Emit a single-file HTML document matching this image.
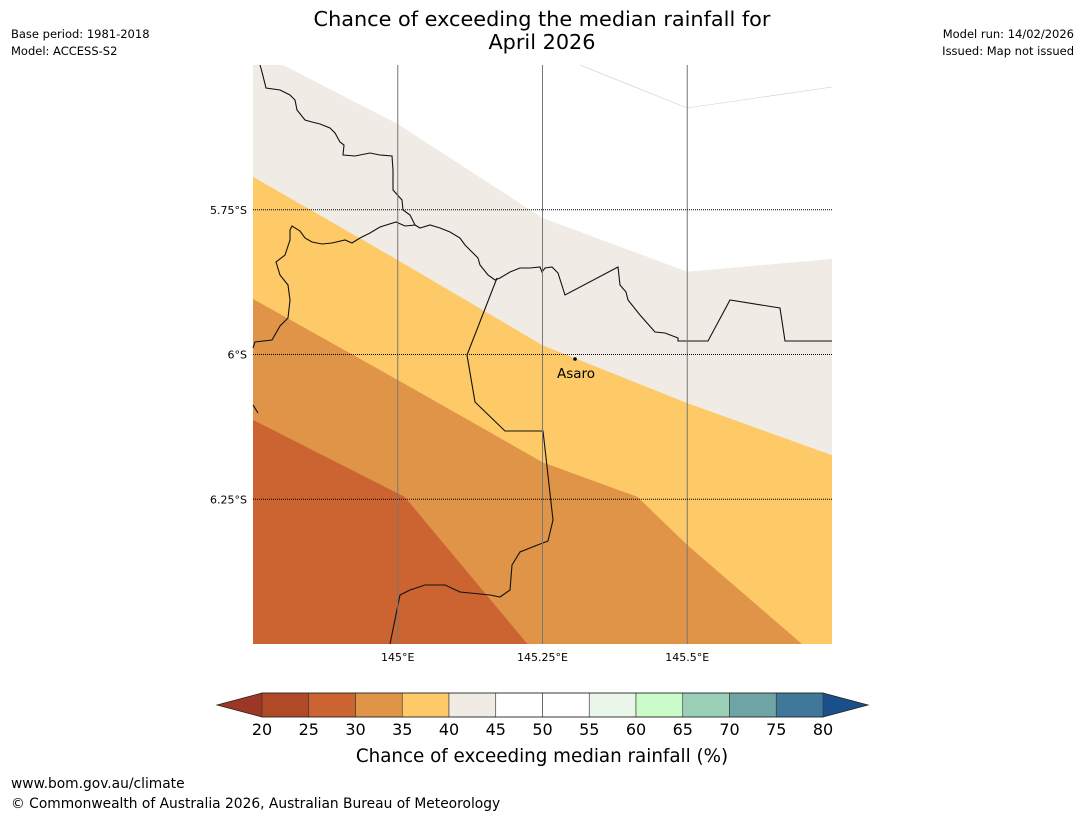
<!DOCTYPE html>
<html><head><meta charset="utf-8"><style>
body{margin:0;background:#fff;font-family:"DejaVu Sans",sans-serif;}
#wrap{position:relative;width:1085px;height:816px;overflow:hidden;}
</style></head><body>
<div id="wrap">
<svg id="svg" width="1085" height="816" xmlns="http://www.w3.org/2000/svg" font-family="DejaVu Sans, sans-serif">
<text x="542" y="26" text-anchor="middle" font-size="20.8">Chance of exceeding the median rainfall for</text>
<text x="542" y="49" text-anchor="middle" font-size="20.8">April 2026</text>
<text x="11" y="38" font-size="11.5">Base period: 1981-2018</text>
<text x="11" y="55" font-size="11.5">Model: ACCESS-S2</text>
<text x="1074" y="38" font-size="11.5" text-anchor="end">Model run: 14/02/2026</text>
<text x="1074" y="55" font-size="11.5" text-anchor="end">Issued: Map not issued</text>
<g id="map"></g>
<g id="cbar"></g>
<text x="542" y="762" text-anchor="middle" font-size="18.3">Chance of exceeding median rainfall (%)</text>
<text x="11" y="788" font-size="13.8">www.bom.gov.au/climate</text>
<text x="11" y="808" font-size="13.8">© Commonwealth of Australia 2026, Australian Bureau of Meteorology</text>
</svg></div>
<script>
const lonTicks=[145,145.25,145.5];
const lonLabels=["145°E","145.25°E","145.5°E"];
const latTicks=[5.75,6,6.25];
const latLabels=["5.75°S","6°S","6.25°S"];
const levels=[20,25,30,35,40,45,50,55,60,65,70,75,80];
const colors=["#b04a26","#cc6431","#e09448","#fdca67","#f0ebe5","#ffffff","#ffffff","#eaf6e9","#c9fcc8","#9ccfb8","#6fa4a6","#3f7898"];
const lowColor="#9b3724", highColor="#19508a";
const lightTop=[[144.802,5.5],[145.0,5.602],[145.25,5.764],[145.5,5.857],[145.75,5.835]];
const lightBot=[[144.75,5.693],[145.0,5.837],[145.25,5.984],[145.5,6.084],[145.75,6.174]];
const yellowBot=[[144.75,5.904],[145.0,6.044],[145.25,6.186],[145.414,6.246],[145.5,6.329],[145.698,6.5]];
const orangeBot=[[144.75,6.113],[145.012,6.246],[145.224,6.5]];
const X0=253,X1=832,Y0=65,Y1=644,LON0=144.75,LON1=145.75,LAT0=5.5,LAT1=6.5;
const xs=l=>X0+(l-LON0)/(LON1-LON0)*(X1-X0);
const ys=l=>Y0+(l-LAT0)/(LAT1-LAT0)*(Y1-Y0);
const NS="http://www.w3.org/2000/svg";
const map=document.getElementById('map');
function mk(t,a,p){const e=document.createElementNS(NS,t);for(const k in a)e.setAttribute(k,a[k]);(p||map).appendChild(e);return e;}
const P=arr=>arr.map(p=>xs(p[0])+','+ys(p[1])).join(' ');
const BR=[LON1,LAT1];
let e;
e=mk('rect',{x:X0,y:Y0,width:X1-X0,height:Y1-Y0,fill:colors[1]});

e=mk('polygon',{points:P([[LON0,LAT0],[LON1,LAT0],BR].concat(orangeBot.slice().reverse())),fill:colors[2]});

e=mk('polygon',{points:P([[LON0,LAT0],[LON1,LAT0],BR].concat(yellowBot.slice().reverse())),fill:colors[3]});

e=mk('polygon',{points:P([[LON0,LAT0],[LON1,LAT0]].concat(lightBot.slice().reverse())),fill:colors[4]});

e=mk('polygon',{points:P([[144.802,LAT0],[LON1,LAT0]].concat(lightTop.slice().reverse())),fill:"#ffffff"});

e=mk('polyline',{points:"580,65 687,108 832,87",fill:"none",stroke:"#ccc","stroke-width":0.6});

const borders=[
"260,65 262,72 266,88 280,90 290,95 295,100 297,110 305,120 312,122 320,124 330,128 335,133 340,142 344,145 343,155 355,156 370,153 380,155 392,156 393,170 393,190 402,200 403,210 410,215 415,225 405,226 396,222 380,227 370,233 360,238 352,243 345,240 332,243 322,244 312,242 305,238 300,231 292,226 290,230 290,240 285,255 276,262 280,275 288,285 290,300 288,318 280,326 272,340 255,342 253,348",
"415,225 420,228 430,225 440,228 450,232 460,238 465,245 470,250 478,258 480,265 488,275 495,280 500,278 510,272 520,268 530,268 540,267 542,272 545,268 552,267 558,273 565,295 618,267 620,285 626,292 628,300 640,315 655,332 665,333 678,338 678,341 708,341 730,300 780,308 785,341 832,341",
"497,278 467,355 475,402 505,431 543,431 553,520 548,541 535,546 520,552 512,565 510,590 500,597 490,595 470,593 460,592 445,585 425,585 410,590 400,595 390,644",
"253,405 258,413"];
borders.forEach((b,i)=>{const el=mk('polyline',{points:b,fill:'none',stroke:'#111','stroke-width':1.1});

});
lonTicks.forEach((l,i)=>{const g=mk('line',{x1:xs(l),x2:xs(l),y1:Y0,y2:Y1,stroke:'#777','stroke-width':1});

const t=mk('text',{x:xs(l),y:661,'text-anchor':'middle','font-size':11});t.textContent=lonLabels[i];
});
latTicks.forEach((l,i)=>{const g=mk('line',{x1:X0,x2:X1,y1:ys(l),y2:ys(l),stroke:'#000','stroke-width':1,'stroke-dasharray':'1,1'});

const t=mk('text',{x:247,y:ys(l)+4,'text-anchor':'end','font-size':11});t.textContent=latLabels[i];
});
e=mk('circle',{cx:575,cy:359,r:1.8,fill:'#000'});

e=mk('text',{x:576,y:378,'text-anchor':'middle','font-size':13.5});e.textContent='Asaro';

const cb=document.getElementById('cbar');
const CX0=262,CX1=823,CY0=693,CY1=717;
const cx=v=>CX0+(v-levels[0])/(levels[levels.length-1]-levels[0])*(CX1-CX0);
e=mk('polygon',{points:`217,705 ${CX0},${CY0} ${CX0},${CY1}`,fill:lowColor},cb);

e=mk('polygon',{points:`868,705 ${CX1},${CY0} ${CX1},${CY1}`,fill:highColor},cb);

colors.forEach((c,i)=>{const r=mk('rect',{x:cx(levels[i]),y:CY0,width:cx(levels[i+1])-cx(levels[i]),height:CY1-CY0,fill:c,stroke:'#333','stroke-width':0.6},cb);
});
e=mk('polygon',{points:`217,705 ${CX0},${CY0} ${CX1},${CY0} 868,705 ${CX1},${CY1} ${CX0},${CY1}`,fill:'none',stroke:'#222','stroke-width':0.8},cb);

levels.forEach(v=>{const t=mk('text',{x:cx(v),y:735,'text-anchor':'middle','font-size':16},cb);t.textContent=v;
});
</script>
</body></html>
